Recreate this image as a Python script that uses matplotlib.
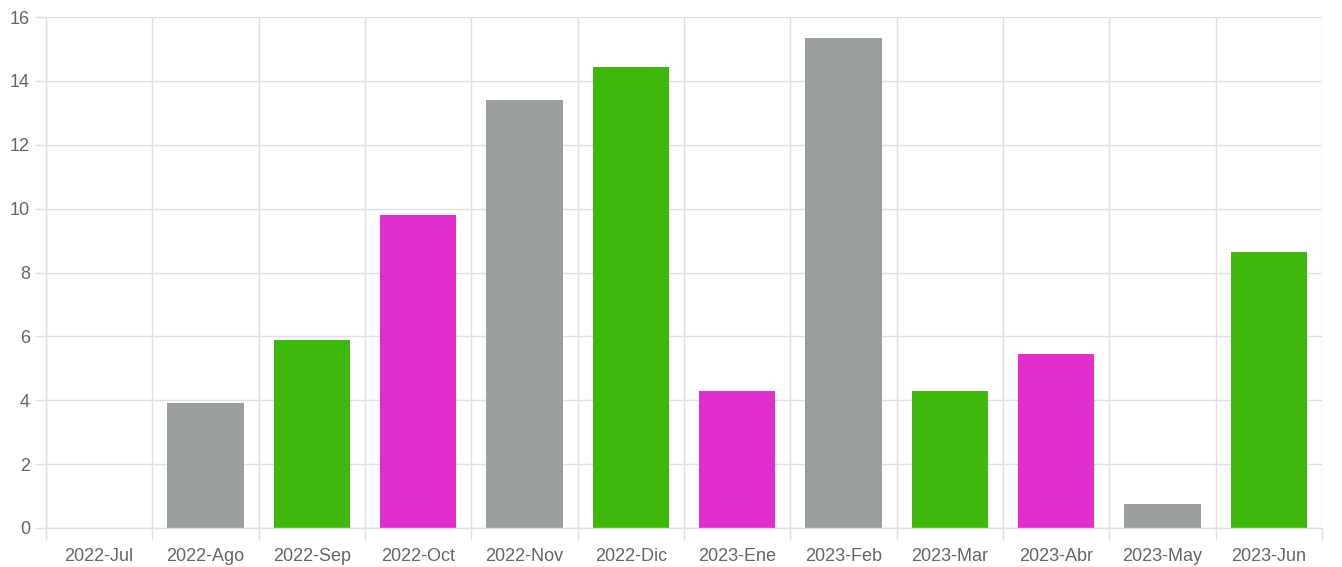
import matplotlib.pyplot as plt
import numpy as np

plt.rcParams["font.family"] = ["Liberation Sans", "DejaVu Sans"]

# ---- Data ----
months = ["2022-Jul", "2022-Ago", "2022-Sep", "2022-Oct", "2022-Nov", "2022-Dic",
          "2023-Ene", "2023-Feb", "2023-Mar", "2023-Abr", "2023-May", "2023-Jun"]
values = [0.0, 3.9, 5.9, 9.8, 13.4, 14.45, 4.3, 15.35, 4.3, 5.45, 0.75, 8.65]

GREY = "#9BA09C"
GREEN = "#3EB80B"
MAGENTA = "#E22ECF"
bar_colors = [GREY, GREY, GREEN, MAGENTA, GREY, GREEN,
              MAGENTA, GREY, GREEN, MAGENTA, GREY, GREEN]

GRID = "#E0E0E0"
TEXT = "#666666"

# ---- Plot ----
W, H = 1342, 567
fig = plt.figure(figsize=(W / 100, H / 100), dpi=100)
ax = fig.add_axes([46 / W, (H - 528) / H, (1322 - 46) / W, (528 - 17) / H])

x = np.arange(len(months))
ax.bar(x, values, width=0.72, color=bar_colors, zorder=2)

ax.set_xlim(-0.5, len(months) - 0.5)
ax.set_ylim(0, 16)

# y axis
ax.set_yticks(np.arange(0, 17, 2))
ax.tick_params(axis="y", length=8, width=1, color=GRID, pad=3.5,
               labelsize=13, labelcolor=TEXT)

# x axis: gridlines on category boundaries, labels at centres
ax.set_xticks(np.arange(-0.5, len(months), 1))
ax.set_xticklabels([])
ax.set_xticks(x, minor=True)
ax.set_xticklabels(months, minor=True)
ax.tick_params(axis="x", which="major", length=8.5, width=1, color=GRID)
ax.tick_params(axis="x", which="minor", length=0, pad=14.5,
               labelsize=13, labelcolor=TEXT)

ax.grid(True, which="major", color=GRID, linewidth=1, zorder=0)
ax.set_axisbelow(True)
for side in ["top", "right"]:
    ax.spines[side].set_visible(False)
for side in ["left", "bottom"]:
    ax.spines[side].set_color(GRID)
    ax.spines[side].set_linewidth(1)

fig.savefig("out.png", dpi=100, facecolor="white")
